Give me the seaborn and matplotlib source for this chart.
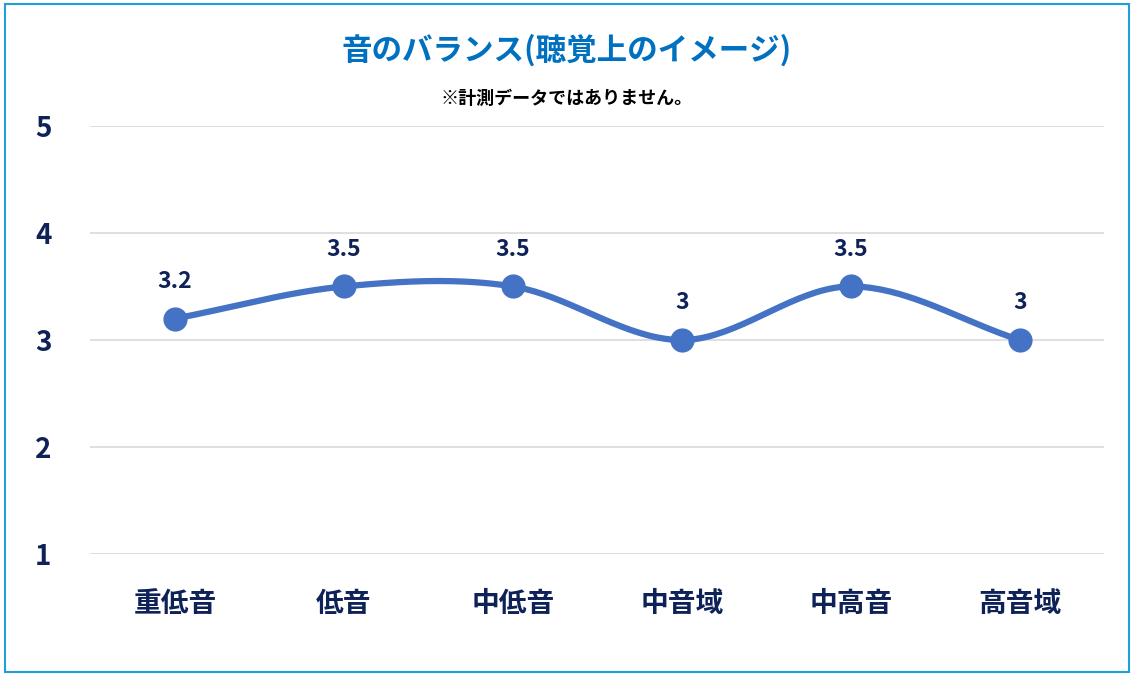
import numpy as np
import pandas as pd
import matplotlib
matplotlib.use("Agg")
import matplotlib.pyplot as plt
import seaborn as sns
from matplotlib.patches import Rectangle

categories = ["重低音", "低音", "中低音", "中音域", "中高音", "高音域"]
values = [3.2, 3.5, 3.5, 3.0, 3.5, 3.0]
labels = ["3.2", "3.5", "3.5", "3", "3.5", "3"]
yticks = [1, 2, 3, 4, 5]

plt.rcParams["font.family"] = "Noto Sans CJK JP"
navy = "#0E2258"
blue = "#4472C4"

df = pd.DataFrame({"cat": categories, "val": values, "x": range(len(categories))})

fig = plt.figure(figsize=(11.34, 6.76), dpi=100)
ax = fig.add_axes([0.0798, 0.180, 0.894, 0.634])

# Catmull-Rom smoothing for display (Excel-like smoothed line)
xs = df["x"].to_numpy(float); ys = df["val"].to_numpy(float)
px = np.concatenate([[2*xs[0]-xs[1]], xs, [2*xs[-1]-xs[-2]]])
py = np.concatenate([[2*ys[0]-ys[1]], ys, [2*ys[-1]-ys[-2]]])
cx, cy = [], []
t = np.linspace(0, 1, 40)
for i in range(1, len(px)-2):
    for arr, out in ((px, cx), (py, cy)):
        p0, p1, p2, p3 = arr[i-1], arr[i], arr[i+1], arr[i+2]
        out.extend(0.5*((2*p1) + (-p0+p2)*t + (2*p0-5*p1+4*p2-p3)*t**2 + (-p0+3*p1-3*p2+p3)*t**3))
ax.plot(cx, cy, color=blue, lw=4.5, solid_capstyle="round", zorder=3)
sns.scatterplot(data=df, x="x", y="val", ax=ax, s=260, color=blue, edgecolor=blue, zorder=4, legend=False)

for x, v, l in zip(df["x"], values, labels):
    ax.text(x, v + 0.24, l, ha="center", va="bottom", fontsize=16.5, fontweight="bold", color=navy)

ax.set_xlim(-0.5, len(categories) - 0.5)
ax.set_ylim(1, 5)
ax.set_yticks(yticks)
ax.set_yticklabels([str(y) for y in yticks], fontsize=20, fontweight="bold", color=navy)
ax.set_xticks(range(len(categories)))
ax.set_xticklabels(categories, fontsize=20, fontweight="bold", color=navy)
ax.tick_params(axis="x", length=0, pad=26)
ax.tick_params(axis="y", length=0, pad=28)
ax.grid(axis="y", color="#D9D9D9", lw=1.2)
ax.set_axisbelow(True)
for s in ax.spines.values():
    s.set_visible(False)
ax.set_xlabel(""); ax.set_ylabel("")

fig.text(0.5, 0.926, "音のバランス(聴覚上のイメージ)", ha="center", va="center",
         fontsize=22, fontweight="bold", color="#0070C0")
fig.text(0.5, 0.855, "※計測データではありません。", ha="center", va="center",
         fontsize=13, fontweight="bold", color="black")
fig.patches.append(Rectangle((0.004, 0.006), 0.992, 0.988, transform=fig.transFigure,
                             fill=False, edgecolor="#1E9FD8", lw=1.5))
fig.savefig("out.png", dpi=100)
